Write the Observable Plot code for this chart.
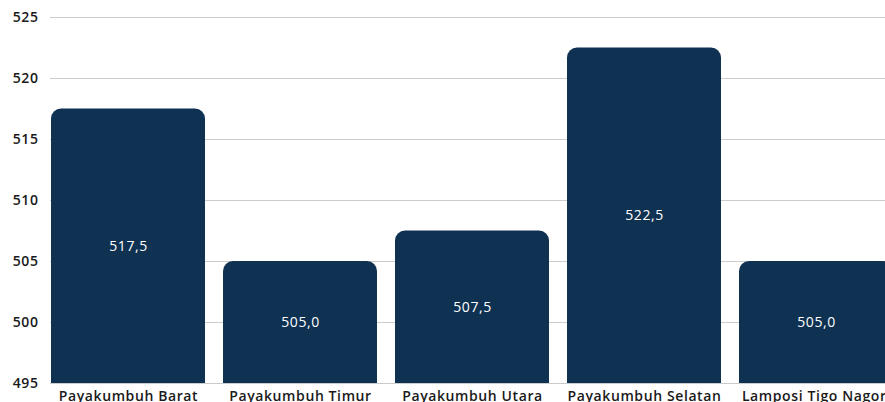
<!DOCTYPE html>
<html>
<head>
<meta charset="utf-8">
<script src="https://cdn.jsdelivr.net/npm/d3@7"></script>
<script src="https://cdn.jsdelivr.net/npm/@observablehq/plot@0.6"></script>
<style>
  html, body { margin: 0; padding: 0; background: #fff; overflow: hidden; }
  #chart svg { overflow: hidden; }
  #chart svg text { letter-spacing: 0.6px; }
</style>
</head>
<body>
<div id="chart"></div>
<script>
const categories = ["Payakumbuh Barat", "Payakumbuh Timur", "Payakumbuh Utara", "Payakumbuh Selatan", "Lamposi Tigo Nagori"];
const values = [517.5, 505.0, 507.5, 522.5, 505.0];
const yTicks = [495, 500, 505, 510, 515, 520, 525];

const data = categories.map((c, i) => ({category: c, value: values[i]}));
const base = 495;
const fmt = v => v.toFixed(1).replace(".", ",");
const barColor = "#0f3152";

const chart = Plot.plot({
  width: 885,
  height: 402,
  marginTop: 17,
  marginBottom: 19,
  marginLeft: 50,
  marginRight: 0,
  style: {fontFamily: "'Open Sans', sans-serif", fontSize: "14px", color: "#1a1a1a", background: "#fff"},
  x: {domain: categories, range: [50, 894.5], paddingInner: 0.104, paddingOuter: 0, label: null},
  y: {domain: [495, 525], ticks: yTicks, label: null},
  marks: [
    Plot.ruleY(yTicks, {stroke: "#cccccc", strokeWidth: 1}),
    Plot.barY(data, {x: "category", y1: () => base, y2: "value", fill: barColor, rx: 10}),
    Plot.barY(data, {x: "category", y1: () => base, y2: d => d.value - 1, fill: barColor}),
    Plot.text(data, {x: "category", y: d => (base + d.value) / 2, text: d => fmt(d.value), fill: "white", fontSize: 14, fontWeight: 500}),
    Plot.axisY({ticks: yTicks, tickSize: 0, tickPadding: 12, fontSize: 14, fontWeight: 600, label: null, tickFormat: d => String(d)}),
    Plot.axisX({tickSize: 0, tickPadding: 8, fontSize: 14, fontWeight: 600, label: null})
  ]
});
document.getElementById("chart").appendChild(chart);
</script>
</body>
</html>
